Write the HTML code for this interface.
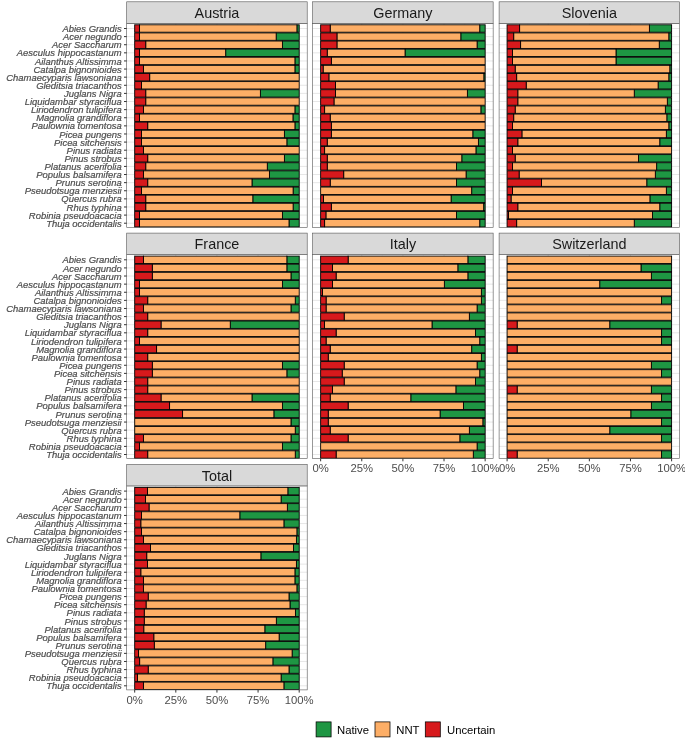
<!DOCTYPE html><html><head><meta charset="utf-8"><title>chart</title><style>html,body{margin:0;padding:0;background:#fff}svg{display:block;will-change:transform}text{font-family:"Liberation Sans",sans-serif}</style></head><body>
<svg width="685" height="747" viewBox="0 0 685 747">
<rect width="685" height="747" fill="#fff"/>
<g>
<rect x="126.70" y="23.30" width="180.50" height="204.00" fill="#fff"/>
<path d="M126.70 28.50H307.20M126.70 36.61H307.20M126.70 44.73H307.20M126.70 52.84H307.20M126.70 60.95H307.20M126.70 69.06H307.20M126.70 77.18H307.20M126.70 85.29H307.20M126.70 93.40H307.20M126.70 101.52H307.20M126.70 109.63H307.20M126.70 117.74H307.20M126.70 125.86H307.20M126.70 133.97H307.20M126.70 142.08H307.20M126.70 150.19H307.20M126.70 158.31H307.20M126.70 166.42H307.20M126.70 174.53H307.20M126.70 182.65H307.20M126.70 190.76H307.20M126.70 198.87H307.20M126.70 206.99H307.20M126.70 215.10H307.20M126.70 223.21H307.20M134.70 23.30V227.30M175.82 23.30V227.30M216.95 23.30V227.30M258.07 23.30V227.30M299.20 23.30V227.30" stroke="#E4E4E4" stroke-width="0.9" fill="none"/>
<path d="M155.26 23.30V227.30M196.39 23.30V227.30M237.51 23.30V227.30M278.64 23.30V227.30" stroke="#EBEBEB" stroke-width="0.35" fill="none"/>
<rect x="296.90" y="24.80" width="2.30" height="7.4" fill="#1E9643" stroke="#000" stroke-width="0.9"/>
<rect x="139.47" y="24.80" width="157.43" height="7.4" fill="#FDAE66" stroke="#000" stroke-width="0.9"/>
<rect x="134.70" y="24.80" width="4.77" height="7.4" fill="#D7191C" stroke="#000" stroke-width="0.9"/>
<rect x="276.17" y="32.91" width="23.03" height="7.4" fill="#1E9643" stroke="#000" stroke-width="0.9"/>
<rect x="139.47" y="32.91" width="136.70" height="7.4" fill="#FDAE66" stroke="#000" stroke-width="0.9"/>
<rect x="134.70" y="32.91" width="4.77" height="7.4" fill="#D7191C" stroke="#000" stroke-width="0.9"/>
<rect x="282.42" y="41.03" width="16.78" height="7.4" fill="#1E9643" stroke="#000" stroke-width="0.9"/>
<rect x="145.72" y="41.03" width="136.70" height="7.4" fill="#FDAE66" stroke="#000" stroke-width="0.9"/>
<rect x="134.70" y="41.03" width="11.02" height="7.4" fill="#D7191C" stroke="#000" stroke-width="0.9"/>
<rect x="225.67" y="49.14" width="73.53" height="7.4" fill="#1E9643" stroke="#000" stroke-width="0.9"/>
<rect x="139.47" y="49.14" width="86.20" height="7.4" fill="#FDAE66" stroke="#000" stroke-width="0.9"/>
<rect x="134.70" y="49.14" width="4.77" height="7.4" fill="#D7191C" stroke="#000" stroke-width="0.9"/>
<rect x="294.92" y="57.25" width="4.28" height="7.4" fill="#1E9643" stroke="#000" stroke-width="0.9"/>
<rect x="139.47" y="57.25" width="155.45" height="7.4" fill="#FDAE66" stroke="#000" stroke-width="0.9"/>
<rect x="134.70" y="57.25" width="4.77" height="7.4" fill="#D7191C" stroke="#000" stroke-width="0.9"/>
<rect x="294.92" y="65.36" width="4.28" height="7.4" fill="#1E9643" stroke="#000" stroke-width="0.9"/>
<rect x="143.42" y="65.36" width="151.50" height="7.4" fill="#FDAE66" stroke="#000" stroke-width="0.9"/>
<rect x="134.70" y="65.36" width="8.72" height="7.4" fill="#D7191C" stroke="#000" stroke-width="0.9"/>
<rect x="149.67" y="73.48" width="149.53" height="7.4" fill="#FDAE66" stroke="#000" stroke-width="0.9"/>
<rect x="134.70" y="73.48" width="14.97" height="7.4" fill="#D7191C" stroke="#000" stroke-width="0.9"/>
<rect x="141.44" y="81.59" width="157.76" height="7.4" fill="#FDAE66" stroke="#000" stroke-width="0.9"/>
<rect x="134.70" y="81.59" width="6.74" height="7.4" fill="#D7191C" stroke="#000" stroke-width="0.9"/>
<rect x="260.38" y="89.70" width="38.82" height="7.4" fill="#1E9643" stroke="#000" stroke-width="0.9"/>
<rect x="145.72" y="89.70" width="114.66" height="7.4" fill="#FDAE66" stroke="#000" stroke-width="0.9"/>
<rect x="134.70" y="89.70" width="11.02" height="7.4" fill="#D7191C" stroke="#000" stroke-width="0.9"/>
<rect x="145.72" y="97.82" width="153.48" height="7.4" fill="#FDAE66" stroke="#000" stroke-width="0.9"/>
<rect x="134.70" y="97.82" width="11.02" height="7.4" fill="#D7191C" stroke="#000" stroke-width="0.9"/>
<rect x="294.92" y="105.93" width="4.28" height="7.4" fill="#1E9643" stroke="#000" stroke-width="0.9"/>
<rect x="143.42" y="105.93" width="151.50" height="7.4" fill="#FDAE66" stroke="#000" stroke-width="0.9"/>
<rect x="134.70" y="105.93" width="8.72" height="7.4" fill="#D7191C" stroke="#000" stroke-width="0.9"/>
<rect x="292.95" y="114.04" width="6.25" height="7.4" fill="#1E9643" stroke="#000" stroke-width="0.9"/>
<rect x="139.47" y="114.04" width="153.48" height="7.4" fill="#FDAE66" stroke="#000" stroke-width="0.9"/>
<rect x="134.70" y="114.04" width="4.77" height="7.4" fill="#D7191C" stroke="#000" stroke-width="0.9"/>
<rect x="294.92" y="122.16" width="4.28" height="7.4" fill="#1E9643" stroke="#000" stroke-width="0.9"/>
<rect x="147.70" y="122.16" width="147.23" height="7.4" fill="#FDAE66" stroke="#000" stroke-width="0.9"/>
<rect x="134.70" y="122.16" width="13.00" height="7.4" fill="#D7191C" stroke="#000" stroke-width="0.9"/>
<rect x="284.39" y="130.27" width="14.80" height="7.4" fill="#1E9643" stroke="#000" stroke-width="0.9"/>
<rect x="141.44" y="130.27" width="142.95" height="7.4" fill="#FDAE66" stroke="#000" stroke-width="0.9"/>
<rect x="134.70" y="130.27" width="6.74" height="7.4" fill="#D7191C" stroke="#000" stroke-width="0.9"/>
<rect x="286.86" y="138.38" width="12.34" height="7.4" fill="#1E9643" stroke="#000" stroke-width="0.9"/>
<rect x="141.44" y="138.38" width="145.42" height="7.4" fill="#FDAE66" stroke="#000" stroke-width="0.9"/>
<rect x="134.70" y="138.38" width="6.74" height="7.4" fill="#D7191C" stroke="#000" stroke-width="0.9"/>
<rect x="143.42" y="146.50" width="155.78" height="7.4" fill="#FDAE66" stroke="#000" stroke-width="0.9"/>
<rect x="134.70" y="146.50" width="8.72" height="7.4" fill="#D7191C" stroke="#000" stroke-width="0.9"/>
<rect x="284.39" y="154.61" width="14.80" height="7.4" fill="#1E9643" stroke="#000" stroke-width="0.9"/>
<rect x="147.70" y="154.61" width="136.70" height="7.4" fill="#FDAE66" stroke="#000" stroke-width="0.9"/>
<rect x="134.70" y="154.61" width="13.00" height="7.4" fill="#D7191C" stroke="#000" stroke-width="0.9"/>
<rect x="267.29" y="162.72" width="31.91" height="7.4" fill="#1E9643" stroke="#000" stroke-width="0.9"/>
<rect x="145.72" y="162.72" width="121.57" height="7.4" fill="#FDAE66" stroke="#000" stroke-width="0.9"/>
<rect x="134.70" y="162.72" width="11.02" height="7.4" fill="#D7191C" stroke="#000" stroke-width="0.9"/>
<rect x="269.43" y="170.83" width="29.77" height="7.4" fill="#1E9643" stroke="#000" stroke-width="0.9"/>
<rect x="143.42" y="170.83" width="126.01" height="7.4" fill="#FDAE66" stroke="#000" stroke-width="0.9"/>
<rect x="134.70" y="170.83" width="8.72" height="7.4" fill="#D7191C" stroke="#000" stroke-width="0.9"/>
<rect x="251.99" y="178.95" width="47.21" height="7.4" fill="#1E9643" stroke="#000" stroke-width="0.9"/>
<rect x="147.70" y="178.95" width="104.29" height="7.4" fill="#FDAE66" stroke="#000" stroke-width="0.9"/>
<rect x="134.70" y="178.95" width="13.00" height="7.4" fill="#D7191C" stroke="#000" stroke-width="0.9"/>
<rect x="293.11" y="187.06" width="6.09" height="7.4" fill="#1E9643" stroke="#000" stroke-width="0.9"/>
<rect x="141.44" y="187.06" width="151.67" height="7.4" fill="#FDAE66" stroke="#000" stroke-width="0.9"/>
<rect x="134.70" y="187.06" width="6.74" height="7.4" fill="#D7191C" stroke="#000" stroke-width="0.9"/>
<rect x="252.81" y="195.17" width="46.39" height="7.4" fill="#1E9643" stroke="#000" stroke-width="0.9"/>
<rect x="145.72" y="195.17" width="107.09" height="7.4" fill="#FDAE66" stroke="#000" stroke-width="0.9"/>
<rect x="134.70" y="195.17" width="11.02" height="7.4" fill="#D7191C" stroke="#000" stroke-width="0.9"/>
<rect x="293.11" y="203.29" width="6.09" height="7.4" fill="#1E9643" stroke="#000" stroke-width="0.9"/>
<rect x="145.72" y="203.29" width="147.39" height="7.4" fill="#FDAE66" stroke="#000" stroke-width="0.9"/>
<rect x="134.70" y="203.29" width="11.02" height="7.4" fill="#D7191C" stroke="#000" stroke-width="0.9"/>
<rect x="282.42" y="211.40" width="16.78" height="7.4" fill="#1E9643" stroke="#000" stroke-width="0.9"/>
<rect x="139.47" y="211.40" width="142.95" height="7.4" fill="#FDAE66" stroke="#000" stroke-width="0.9"/>
<rect x="134.70" y="211.40" width="4.77" height="7.4" fill="#D7191C" stroke="#000" stroke-width="0.9"/>
<rect x="289.00" y="219.51" width="10.20" height="7.4" fill="#1E9643" stroke="#000" stroke-width="0.9"/>
<rect x="139.47" y="219.51" width="149.53" height="7.4" fill="#FDAE66" stroke="#000" stroke-width="0.9"/>
<rect x="134.70" y="219.51" width="4.77" height="7.4" fill="#D7191C" stroke="#000" stroke-width="0.9"/>
<rect x="126.70" y="23.30" width="180.50" height="204.00" fill="none" stroke="#555" stroke-width="0.6"/>
<rect x="126.70" y="1.80" width="180.50" height="21.50" fill="#D9D9D9" stroke="#555" stroke-width="0.6"/>
<text x="216.95" y="18.05" font-size="14.4" fill="#1A1A1A" text-anchor="middle">Austria</text>
<text x="121.70" y="32.10" font-size="9.45" font-style="italic" fill="#4D4D4D" stroke="#4D4D4D" stroke-width="0.2" text-anchor="end">Abies Grandis</text>
<text x="121.70" y="40.21" font-size="9.45" font-style="italic" fill="#4D4D4D" stroke="#4D4D4D" stroke-width="0.2" text-anchor="end">Acer negundo</text>
<text x="121.70" y="48.33" font-size="9.45" font-style="italic" fill="#4D4D4D" stroke="#4D4D4D" stroke-width="0.2" text-anchor="end">Acer Saccharum</text>
<text x="121.70" y="56.44" font-size="9.45" font-style="italic" fill="#4D4D4D" stroke="#4D4D4D" stroke-width="0.2" text-anchor="end">Aesculus hippocastanum</text>
<text x="121.70" y="64.55" font-size="9.45" font-style="italic" fill="#4D4D4D" stroke="#4D4D4D" stroke-width="0.2" text-anchor="end">Ailanthus Altissimma</text>
<text x="121.70" y="72.66" font-size="9.45" font-style="italic" fill="#4D4D4D" stroke="#4D4D4D" stroke-width="0.2" text-anchor="end">Catalpa bignonioides</text>
<text x="121.70" y="80.78" font-size="9.45" font-style="italic" fill="#4D4D4D" stroke="#4D4D4D" stroke-width="0.2" text-anchor="end">Chamaecyparis lawsoniana</text>
<text x="121.70" y="88.89" font-size="9.45" font-style="italic" fill="#4D4D4D" stroke="#4D4D4D" stroke-width="0.2" text-anchor="end">Gleditsia triacanthos</text>
<text x="121.70" y="97.00" font-size="9.45" font-style="italic" fill="#4D4D4D" stroke="#4D4D4D" stroke-width="0.2" text-anchor="end">Juglans Nigra</text>
<text x="121.70" y="105.12" font-size="9.45" font-style="italic" fill="#4D4D4D" stroke="#4D4D4D" stroke-width="0.2" text-anchor="end">Liquidambar styraciflua</text>
<text x="121.70" y="113.23" font-size="9.45" font-style="italic" fill="#4D4D4D" stroke="#4D4D4D" stroke-width="0.2" text-anchor="end">Liriodendron tulipifera</text>
<text x="121.70" y="121.34" font-size="9.45" font-style="italic" fill="#4D4D4D" stroke="#4D4D4D" stroke-width="0.2" text-anchor="end">Magnolia grandiflora</text>
<text x="121.70" y="129.46" font-size="9.45" font-style="italic" fill="#4D4D4D" stroke="#4D4D4D" stroke-width="0.2" text-anchor="end">Paulownia tomentosa</text>
<text x="121.70" y="137.57" font-size="9.45" font-style="italic" fill="#4D4D4D" stroke="#4D4D4D" stroke-width="0.2" text-anchor="end">Picea pungens</text>
<text x="121.70" y="145.68" font-size="9.45" font-style="italic" fill="#4D4D4D" stroke="#4D4D4D" stroke-width="0.2" text-anchor="end">Picea sitchensis</text>
<text x="121.70" y="153.79" font-size="9.45" font-style="italic" fill="#4D4D4D" stroke="#4D4D4D" stroke-width="0.2" text-anchor="end">Pinus radiata</text>
<text x="121.70" y="161.91" font-size="9.45" font-style="italic" fill="#4D4D4D" stroke="#4D4D4D" stroke-width="0.2" text-anchor="end">Pinus strobus</text>
<text x="121.70" y="170.02" font-size="9.45" font-style="italic" fill="#4D4D4D" stroke="#4D4D4D" stroke-width="0.2" text-anchor="end">Platanus acerifolia</text>
<text x="121.70" y="178.13" font-size="9.45" font-style="italic" fill="#4D4D4D" stroke="#4D4D4D" stroke-width="0.2" text-anchor="end">Populus balsamifera</text>
<text x="121.70" y="186.25" font-size="9.45" font-style="italic" fill="#4D4D4D" stroke="#4D4D4D" stroke-width="0.2" text-anchor="end">Prunus serotina</text>
<text x="121.70" y="194.36" font-size="9.45" font-style="italic" fill="#4D4D4D" stroke="#4D4D4D" stroke-width="0.2" text-anchor="end">Pseudotsuga menziesii</text>
<text x="121.70" y="202.47" font-size="9.45" font-style="italic" fill="#4D4D4D" stroke="#4D4D4D" stroke-width="0.2" text-anchor="end">Quercus rubra</text>
<text x="121.70" y="210.59" font-size="9.45" font-style="italic" fill="#4D4D4D" stroke="#4D4D4D" stroke-width="0.2" text-anchor="end">Rhus typhina</text>
<text x="121.70" y="218.70" font-size="9.45" font-style="italic" fill="#4D4D4D" stroke="#4D4D4D" stroke-width="0.2" text-anchor="end">Robinia pseudoacacia</text>
<text x="121.70" y="226.81" font-size="9.45" font-style="italic" fill="#4D4D4D" stroke="#4D4D4D" stroke-width="0.2" text-anchor="end">Thuja occidentalis</text>
<path d="M124.00 28.50H126.70M124.00 36.61H126.70M124.00 44.73H126.70M124.00 52.84H126.70M124.00 60.95H126.70M124.00 69.06H126.70M124.00 77.18H126.70M124.00 85.29H126.70M124.00 93.40H126.70M124.00 101.52H126.70M124.00 109.63H126.70M124.00 117.74H126.70M124.00 125.86H126.70M124.00 133.97H126.70M124.00 142.08H126.70M124.00 150.19H126.70M124.00 158.31H126.70M124.00 166.42H126.70M124.00 174.53H126.70M124.00 182.65H126.70M124.00 190.76H126.70M124.00 198.87H126.70M124.00 206.99H126.70M124.00 215.10H126.70M124.00 223.21H126.70" stroke="#333" stroke-width="1.0" fill="none"/>
</g>
<g>
<rect x="312.65" y="23.30" width="180.50" height="204.00" fill="#fff"/>
<path d="M312.65 28.50H493.15M312.65 36.61H493.15M312.65 44.73H493.15M312.65 52.84H493.15M312.65 60.95H493.15M312.65 69.06H493.15M312.65 77.18H493.15M312.65 85.29H493.15M312.65 93.40H493.15M312.65 101.52H493.15M312.65 109.63H493.15M312.65 117.74H493.15M312.65 125.86H493.15M312.65 133.97H493.15M312.65 142.08H493.15M312.65 150.19H493.15M312.65 158.31H493.15M312.65 166.42H493.15M312.65 174.53H493.15M312.65 182.65H493.15M312.65 190.76H493.15M312.65 198.87H493.15M312.65 206.99H493.15M312.65 215.10H493.15M312.65 223.21H493.15M320.65 23.30V227.30M361.77 23.30V227.30M402.90 23.30V227.30M444.02 23.30V227.30M485.15 23.30V227.30" stroke="#E4E4E4" stroke-width="0.9" fill="none"/>
<path d="M341.21 23.30V227.30M382.34 23.30V227.30M423.46 23.30V227.30M464.59 23.30V227.30" stroke="#EBEBEB" stroke-width="0.35" fill="none"/>
<rect x="479.72" y="24.80" width="5.43" height="7.4" fill="#1E9643" stroke="#000" stroke-width="0.9"/>
<rect x="330.19" y="24.80" width="149.53" height="7.4" fill="#FDAE66" stroke="#000" stroke-width="0.9"/>
<rect x="320.65" y="24.80" width="9.54" height="7.4" fill="#D7191C" stroke="#000" stroke-width="0.9"/>
<rect x="460.80" y="32.91" width="24.35" height="7.4" fill="#1E9643" stroke="#000" stroke-width="0.9"/>
<rect x="336.94" y="32.91" width="123.87" height="7.4" fill="#FDAE66" stroke="#000" stroke-width="0.9"/>
<rect x="320.65" y="32.91" width="16.29" height="7.4" fill="#D7191C" stroke="#000" stroke-width="0.9"/>
<rect x="477.09" y="41.03" width="8.06" height="7.4" fill="#1E9643" stroke="#000" stroke-width="0.9"/>
<rect x="336.94" y="41.03" width="140.15" height="7.4" fill="#FDAE66" stroke="#000" stroke-width="0.9"/>
<rect x="320.65" y="41.03" width="16.29" height="7.4" fill="#D7191C" stroke="#000" stroke-width="0.9"/>
<rect x="405.04" y="49.14" width="80.11" height="7.4" fill="#1E9643" stroke="#000" stroke-width="0.9"/>
<rect x="327.23" y="49.14" width="77.81" height="7.4" fill="#FDAE66" stroke="#000" stroke-width="0.9"/>
<rect x="320.65" y="49.14" width="6.58" height="7.4" fill="#D7191C" stroke="#000" stroke-width="0.9"/>
<rect x="331.34" y="57.25" width="153.81" height="7.4" fill="#FDAE66" stroke="#000" stroke-width="0.9"/>
<rect x="320.65" y="57.25" width="10.69" height="7.4" fill="#D7191C" stroke="#000" stroke-width="0.9"/>
<rect x="323.12" y="65.36" width="162.03" height="7.4" fill="#FDAE66" stroke="#000" stroke-width="0.9"/>
<rect x="320.65" y="65.36" width="2.47" height="7.4" fill="#D7191C" stroke="#000" stroke-width="0.9"/>
<rect x="483.83" y="73.48" width="1.32" height="7.4" fill="#1E9643" stroke="#000" stroke-width="0.9"/>
<rect x="328.88" y="73.48" width="154.96" height="7.4" fill="#FDAE66" stroke="#000" stroke-width="0.9"/>
<rect x="320.65" y="73.48" width="8.22" height="7.4" fill="#D7191C" stroke="#000" stroke-width="0.9"/>
<rect x="335.45" y="81.59" width="149.69" height="7.4" fill="#FDAE66" stroke="#000" stroke-width="0.9"/>
<rect x="320.65" y="81.59" width="14.80" height="7.4" fill="#D7191C" stroke="#000" stroke-width="0.9"/>
<rect x="467.38" y="89.70" width="17.77" height="7.4" fill="#1E9643" stroke="#000" stroke-width="0.9"/>
<rect x="335.45" y="89.70" width="131.93" height="7.4" fill="#FDAE66" stroke="#000" stroke-width="0.9"/>
<rect x="320.65" y="89.70" width="14.80" height="7.4" fill="#D7191C" stroke="#000" stroke-width="0.9"/>
<rect x="333.97" y="97.82" width="151.18" height="7.4" fill="#FDAE66" stroke="#000" stroke-width="0.9"/>
<rect x="320.65" y="97.82" width="13.32" height="7.4" fill="#D7191C" stroke="#000" stroke-width="0.9"/>
<rect x="480.87" y="105.93" width="4.28" height="7.4" fill="#1E9643" stroke="#000" stroke-width="0.9"/>
<rect x="324.60" y="105.93" width="156.28" height="7.4" fill="#FDAE66" stroke="#000" stroke-width="0.9"/>
<rect x="320.65" y="105.93" width="3.95" height="7.4" fill="#D7191C" stroke="#000" stroke-width="0.9"/>
<rect x="330.19" y="114.04" width="154.96" height="7.4" fill="#FDAE66" stroke="#000" stroke-width="0.9"/>
<rect x="320.65" y="114.04" width="9.54" height="7.4" fill="#D7191C" stroke="#000" stroke-width="0.9"/>
<rect x="331.34" y="122.16" width="153.81" height="7.4" fill="#FDAE66" stroke="#000" stroke-width="0.9"/>
<rect x="320.65" y="122.16" width="10.69" height="7.4" fill="#D7191C" stroke="#000" stroke-width="0.9"/>
<rect x="472.81" y="130.27" width="12.34" height="7.4" fill="#1E9643" stroke="#000" stroke-width="0.9"/>
<rect x="331.34" y="130.27" width="141.47" height="7.4" fill="#FDAE66" stroke="#000" stroke-width="0.9"/>
<rect x="320.65" y="130.27" width="10.69" height="7.4" fill="#D7191C" stroke="#000" stroke-width="0.9"/>
<rect x="478.41" y="138.38" width="6.74" height="7.4" fill="#1E9643" stroke="#000" stroke-width="0.9"/>
<rect x="327.23" y="138.38" width="151.18" height="7.4" fill="#FDAE66" stroke="#000" stroke-width="0.9"/>
<rect x="320.65" y="138.38" width="6.58" height="7.4" fill="#D7191C" stroke="#000" stroke-width="0.9"/>
<rect x="475.94" y="146.50" width="9.21" height="7.4" fill="#1E9643" stroke="#000" stroke-width="0.9"/>
<rect x="324.60" y="146.50" width="151.34" height="7.4" fill="#FDAE66" stroke="#000" stroke-width="0.9"/>
<rect x="320.65" y="146.50" width="3.95" height="7.4" fill="#D7191C" stroke="#000" stroke-width="0.9"/>
<rect x="461.79" y="154.61" width="23.36" height="7.4" fill="#1E9643" stroke="#000" stroke-width="0.9"/>
<rect x="327.23" y="154.61" width="134.56" height="7.4" fill="#FDAE66" stroke="#000" stroke-width="0.9"/>
<rect x="320.65" y="154.61" width="6.58" height="7.4" fill="#D7191C" stroke="#000" stroke-width="0.9"/>
<rect x="456.53" y="162.72" width="28.62" height="7.4" fill="#1E9643" stroke="#000" stroke-width="0.9"/>
<rect x="327.23" y="162.72" width="129.30" height="7.4" fill="#FDAE66" stroke="#000" stroke-width="0.9"/>
<rect x="320.65" y="162.72" width="6.58" height="7.4" fill="#D7191C" stroke="#000" stroke-width="0.9"/>
<rect x="466.07" y="170.83" width="19.08" height="7.4" fill="#1E9643" stroke="#000" stroke-width="0.9"/>
<rect x="343.68" y="170.83" width="122.39" height="7.4" fill="#FDAE66" stroke="#000" stroke-width="0.9"/>
<rect x="320.65" y="170.83" width="23.03" height="7.4" fill="#D7191C" stroke="#000" stroke-width="0.9"/>
<rect x="456.53" y="178.95" width="28.62" height="7.4" fill="#1E9643" stroke="#000" stroke-width="0.9"/>
<rect x="330.19" y="178.95" width="126.34" height="7.4" fill="#FDAE66" stroke="#000" stroke-width="0.9"/>
<rect x="320.65" y="178.95" width="9.54" height="7.4" fill="#D7191C" stroke="#000" stroke-width="0.9"/>
<rect x="471.66" y="187.06" width="13.49" height="7.4" fill="#1E9643" stroke="#000" stroke-width="0.9"/>
<rect x="320.65" y="187.06" width="151.01" height="7.4" fill="#FDAE66" stroke="#000" stroke-width="0.9"/>
<rect x="451.10" y="195.17" width="34.05" height="7.4" fill="#1E9643" stroke="#000" stroke-width="0.9"/>
<rect x="323.45" y="195.17" width="127.65" height="7.4" fill="#FDAE66" stroke="#000" stroke-width="0.9"/>
<rect x="320.65" y="195.17" width="2.80" height="7.4" fill="#D7191C" stroke="#000" stroke-width="0.9"/>
<rect x="483.67" y="203.29" width="1.48" height="7.4" fill="#1E9643" stroke="#000" stroke-width="0.9"/>
<rect x="331.34" y="203.29" width="152.33" height="7.4" fill="#FDAE66" stroke="#000" stroke-width="0.9"/>
<rect x="320.65" y="203.29" width="10.69" height="7.4" fill="#D7191C" stroke="#000" stroke-width="0.9"/>
<rect x="456.53" y="211.40" width="28.62" height="7.4" fill="#1E9643" stroke="#000" stroke-width="0.9"/>
<rect x="325.91" y="211.40" width="130.61" height="7.4" fill="#FDAE66" stroke="#000" stroke-width="0.9"/>
<rect x="320.65" y="211.40" width="5.26" height="7.4" fill="#D7191C" stroke="#000" stroke-width="0.9"/>
<rect x="479.72" y="219.51" width="5.43" height="7.4" fill="#1E9643" stroke="#000" stroke-width="0.9"/>
<rect x="324.60" y="219.51" width="155.12" height="7.4" fill="#FDAE66" stroke="#000" stroke-width="0.9"/>
<rect x="320.65" y="219.51" width="3.95" height="7.4" fill="#D7191C" stroke="#000" stroke-width="0.9"/>
<rect x="312.65" y="23.30" width="180.50" height="204.00" fill="none" stroke="#555" stroke-width="0.6"/>
<rect x="312.65" y="1.80" width="180.50" height="21.50" fill="#D9D9D9" stroke="#555" stroke-width="0.6"/>
<text x="402.90" y="18.05" font-size="14.4" fill="#1A1A1A" text-anchor="middle">Germany</text>
</g>
<g>
<rect x="499.10" y="23.30" width="180.50" height="204.00" fill="#fff"/>
<path d="M499.10 28.50H679.60M499.10 36.61H679.60M499.10 44.73H679.60M499.10 52.84H679.60M499.10 60.95H679.60M499.10 69.06H679.60M499.10 77.18H679.60M499.10 85.29H679.60M499.10 93.40H679.60M499.10 101.52H679.60M499.10 109.63H679.60M499.10 117.74H679.60M499.10 125.86H679.60M499.10 133.97H679.60M499.10 142.08H679.60M499.10 150.19H679.60M499.10 158.31H679.60M499.10 166.42H679.60M499.10 174.53H679.60M499.10 182.65H679.60M499.10 190.76H679.60M499.10 198.87H679.60M499.10 206.99H679.60M499.10 215.10H679.60M499.10 223.21H679.60M507.10 23.30V227.30M548.23 23.30V227.30M589.35 23.30V227.30M630.48 23.30V227.30M671.60 23.30V227.30" stroke="#E4E4E4" stroke-width="0.9" fill="none"/>
<path d="M527.66 23.30V227.30M568.79 23.30V227.30M609.91 23.30V227.30M651.04 23.30V227.30" stroke="#EBEBEB" stroke-width="0.35" fill="none"/>
<rect x="649.39" y="24.80" width="22.21" height="7.4" fill="#1E9643" stroke="#000" stroke-width="0.9"/>
<rect x="519.60" y="24.80" width="129.79" height="7.4" fill="#FDAE66" stroke="#000" stroke-width="0.9"/>
<rect x="507.10" y="24.80" width="12.50" height="7.4" fill="#D7191C" stroke="#000" stroke-width="0.9"/>
<rect x="668.80" y="32.91" width="2.80" height="7.4" fill="#1E9643" stroke="#000" stroke-width="0.9"/>
<rect x="513.68" y="32.91" width="155.12" height="7.4" fill="#FDAE66" stroke="#000" stroke-width="0.9"/>
<rect x="507.10" y="32.91" width="6.58" height="7.4" fill="#D7191C" stroke="#000" stroke-width="0.9"/>
<rect x="659.26" y="41.03" width="12.34" height="7.4" fill="#1E9643" stroke="#000" stroke-width="0.9"/>
<rect x="520.59" y="41.03" width="138.67" height="7.4" fill="#FDAE66" stroke="#000" stroke-width="0.9"/>
<rect x="507.10" y="41.03" width="13.49" height="7.4" fill="#D7191C" stroke="#000" stroke-width="0.9"/>
<rect x="616.00" y="49.14" width="55.60" height="7.4" fill="#1E9643" stroke="#000" stroke-width="0.9"/>
<rect x="512.53" y="49.14" width="103.47" height="7.4" fill="#FDAE66" stroke="#000" stroke-width="0.9"/>
<rect x="507.10" y="49.14" width="5.43" height="7.4" fill="#D7191C" stroke="#000" stroke-width="0.9"/>
<rect x="616.00" y="57.25" width="55.60" height="7.4" fill="#1E9643" stroke="#000" stroke-width="0.9"/>
<rect x="512.53" y="57.25" width="103.47" height="7.4" fill="#FDAE66" stroke="#000" stroke-width="0.9"/>
<rect x="507.10" y="57.25" width="5.43" height="7.4" fill="#D7191C" stroke="#000" stroke-width="0.9"/>
<rect x="669.79" y="65.36" width="1.81" height="7.4" fill="#1E9643" stroke="#000" stroke-width="0.9"/>
<rect x="515.16" y="65.36" width="154.63" height="7.4" fill="#FDAE66" stroke="#000" stroke-width="0.9"/>
<rect x="507.10" y="65.36" width="8.06" height="7.4" fill="#D7191C" stroke="#000" stroke-width="0.9"/>
<rect x="668.80" y="73.48" width="2.80" height="7.4" fill="#1E9643" stroke="#000" stroke-width="0.9"/>
<rect x="516.64" y="73.48" width="152.16" height="7.4" fill="#FDAE66" stroke="#000" stroke-width="0.9"/>
<rect x="507.10" y="73.48" width="9.54" height="7.4" fill="#D7191C" stroke="#000" stroke-width="0.9"/>
<rect x="658.11" y="81.59" width="13.49" height="7.4" fill="#1E9643" stroke="#000" stroke-width="0.9"/>
<rect x="526.18" y="81.59" width="131.93" height="7.4" fill="#FDAE66" stroke="#000" stroke-width="0.9"/>
<rect x="507.10" y="81.59" width="19.08" height="7.4" fill="#D7191C" stroke="#000" stroke-width="0.9"/>
<rect x="634.26" y="89.70" width="37.34" height="7.4" fill="#1E9643" stroke="#000" stroke-width="0.9"/>
<rect x="517.79" y="89.70" width="116.47" height="7.4" fill="#FDAE66" stroke="#000" stroke-width="0.9"/>
<rect x="507.10" y="89.70" width="10.69" height="7.4" fill="#D7191C" stroke="#000" stroke-width="0.9"/>
<rect x="667.32" y="97.82" width="4.28" height="7.4" fill="#1E9643" stroke="#000" stroke-width="0.9"/>
<rect x="517.79" y="97.82" width="149.53" height="7.4" fill="#FDAE66" stroke="#000" stroke-width="0.9"/>
<rect x="507.10" y="97.82" width="10.69" height="7.4" fill="#D7191C" stroke="#000" stroke-width="0.9"/>
<rect x="665.35" y="105.93" width="6.25" height="7.4" fill="#1E9643" stroke="#000" stroke-width="0.9"/>
<rect x="515.16" y="105.93" width="150.19" height="7.4" fill="#FDAE66" stroke="#000" stroke-width="0.9"/>
<rect x="507.10" y="105.93" width="8.06" height="7.4" fill="#D7191C" stroke="#000" stroke-width="0.9"/>
<rect x="666.83" y="114.04" width="4.77" height="7.4" fill="#1E9643" stroke="#000" stroke-width="0.9"/>
<rect x="513.68" y="114.04" width="153.15" height="7.4" fill="#FDAE66" stroke="#000" stroke-width="0.9"/>
<rect x="507.10" y="114.04" width="6.58" height="7.4" fill="#D7191C" stroke="#000" stroke-width="0.9"/>
<rect x="668.80" y="122.16" width="2.80" height="7.4" fill="#1E9643" stroke="#000" stroke-width="0.9"/>
<rect x="512.53" y="122.16" width="156.28" height="7.4" fill="#FDAE66" stroke="#000" stroke-width="0.9"/>
<rect x="507.10" y="122.16" width="5.43" height="7.4" fill="#D7191C" stroke="#000" stroke-width="0.9"/>
<rect x="666.34" y="130.27" width="5.26" height="7.4" fill="#1E9643" stroke="#000" stroke-width="0.9"/>
<rect x="521.90" y="130.27" width="144.43" height="7.4" fill="#FDAE66" stroke="#000" stroke-width="0.9"/>
<rect x="507.10" y="130.27" width="14.80" height="7.4" fill="#D7191C" stroke="#000" stroke-width="0.9"/>
<rect x="659.76" y="138.38" width="11.84" height="7.4" fill="#1E9643" stroke="#000" stroke-width="0.9"/>
<rect x="517.79" y="138.38" width="141.96" height="7.4" fill="#FDAE66" stroke="#000" stroke-width="0.9"/>
<rect x="507.10" y="138.38" width="10.69" height="7.4" fill="#D7191C" stroke="#000" stroke-width="0.9"/>
<rect x="512.53" y="146.50" width="159.07" height="7.4" fill="#FDAE66" stroke="#000" stroke-width="0.9"/>
<rect x="507.10" y="146.50" width="5.43" height="7.4" fill="#D7191C" stroke="#000" stroke-width="0.9"/>
<rect x="638.54" y="154.61" width="33.06" height="7.4" fill="#1E9643" stroke="#000" stroke-width="0.9"/>
<rect x="515.16" y="154.61" width="123.38" height="7.4" fill="#FDAE66" stroke="#000" stroke-width="0.9"/>
<rect x="507.10" y="154.61" width="8.06" height="7.4" fill="#D7191C" stroke="#000" stroke-width="0.9"/>
<rect x="656.63" y="162.72" width="14.97" height="7.4" fill="#1E9643" stroke="#000" stroke-width="0.9"/>
<rect x="512.53" y="162.72" width="144.10" height="7.4" fill="#FDAE66" stroke="#000" stroke-width="0.9"/>
<rect x="507.10" y="162.72" width="5.43" height="7.4" fill="#D7191C" stroke="#000" stroke-width="0.9"/>
<rect x="655.31" y="170.83" width="16.29" height="7.4" fill="#1E9643" stroke="#000" stroke-width="0.9"/>
<rect x="519.11" y="170.83" width="136.21" height="7.4" fill="#FDAE66" stroke="#000" stroke-width="0.9"/>
<rect x="507.10" y="170.83" width="12.01" height="7.4" fill="#D7191C" stroke="#000" stroke-width="0.9"/>
<rect x="646.76" y="178.95" width="24.84" height="7.4" fill="#1E9643" stroke="#000" stroke-width="0.9"/>
<rect x="541.48" y="178.95" width="105.28" height="7.4" fill="#FDAE66" stroke="#000" stroke-width="0.9"/>
<rect x="507.10" y="178.95" width="34.38" height="7.4" fill="#D7191C" stroke="#000" stroke-width="0.9"/>
<rect x="666.34" y="187.06" width="5.26" height="7.4" fill="#1E9643" stroke="#000" stroke-width="0.9"/>
<rect x="512.53" y="187.06" width="153.81" height="7.4" fill="#FDAE66" stroke="#000" stroke-width="0.9"/>
<rect x="507.10" y="187.06" width="5.43" height="7.4" fill="#D7191C" stroke="#000" stroke-width="0.9"/>
<rect x="649.89" y="195.17" width="21.71" height="7.4" fill="#1E9643" stroke="#000" stroke-width="0.9"/>
<rect x="511.05" y="195.17" width="138.84" height="7.4" fill="#FDAE66" stroke="#000" stroke-width="0.9"/>
<rect x="507.10" y="195.17" width="3.95" height="7.4" fill="#D7191C" stroke="#000" stroke-width="0.9"/>
<rect x="659.76" y="203.29" width="11.84" height="7.4" fill="#1E9643" stroke="#000" stroke-width="0.9"/>
<rect x="517.79" y="203.29" width="141.96" height="7.4" fill="#FDAE66" stroke="#000" stroke-width="0.9"/>
<rect x="507.10" y="203.29" width="10.69" height="7.4" fill="#D7191C" stroke="#000" stroke-width="0.9"/>
<rect x="652.52" y="211.40" width="19.08" height="7.4" fill="#1E9643" stroke="#000" stroke-width="0.9"/>
<rect x="508.42" y="211.40" width="144.10" height="7.4" fill="#FDAE66" stroke="#000" stroke-width="0.9"/>
<rect x="507.10" y="211.40" width="1.32" height="7.4" fill="#D7191C" stroke="#000" stroke-width="0.9"/>
<rect x="634.26" y="219.51" width="37.34" height="7.4" fill="#1E9643" stroke="#000" stroke-width="0.9"/>
<rect x="516.64" y="219.51" width="117.62" height="7.4" fill="#FDAE66" stroke="#000" stroke-width="0.9"/>
<rect x="507.10" y="219.51" width="9.54" height="7.4" fill="#D7191C" stroke="#000" stroke-width="0.9"/>
<rect x="499.10" y="23.30" width="180.50" height="204.00" fill="none" stroke="#555" stroke-width="0.6"/>
<rect x="499.10" y="1.80" width="180.50" height="21.50" fill="#D9D9D9" stroke="#555" stroke-width="0.6"/>
<text x="589.35" y="18.05" font-size="14.4" fill="#1A1A1A" text-anchor="middle">Slovenia</text>
</g>
<g>
<rect x="126.70" y="254.60" width="180.50" height="204.00" fill="#fff"/>
<path d="M126.70 259.80H307.20M126.70 267.91H307.20M126.70 276.03H307.20M126.70 284.14H307.20M126.70 292.25H307.20M126.70 300.37H307.20M126.70 308.48H307.20M126.70 316.59H307.20M126.70 324.70H307.20M126.70 332.82H307.20M126.70 340.93H307.20M126.70 349.04H307.20M126.70 357.16H307.20M126.70 365.27H307.20M126.70 373.38H307.20M126.70 381.50H307.20M126.70 389.61H307.20M126.70 397.72H307.20M126.70 405.83H307.20M126.70 413.95H307.20M126.70 422.06H307.20M126.70 430.17H307.20M126.70 438.29H307.20M126.70 446.40H307.20M126.70 454.51H307.20M134.70 254.60V458.60M175.82 254.60V458.60M216.95 254.60V458.60M258.07 254.60V458.60M299.20 254.60V458.60" stroke="#E4E4E4" stroke-width="0.9" fill="none"/>
<path d="M155.26 254.60V458.60M196.39 254.60V458.60M237.51 254.60V458.60M278.64 254.60V458.60" stroke="#EBEBEB" stroke-width="0.35" fill="none"/>
<rect x="286.86" y="256.10" width="12.34" height="7.4" fill="#1E9643" stroke="#000" stroke-width="0.9"/>
<rect x="143.42" y="256.10" width="143.44" height="7.4" fill="#FDAE66" stroke="#000" stroke-width="0.9"/>
<rect x="134.70" y="256.10" width="8.72" height="7.4" fill="#D7191C" stroke="#000" stroke-width="0.9"/>
<rect x="286.86" y="264.21" width="12.34" height="7.4" fill="#1E9643" stroke="#000" stroke-width="0.9"/>
<rect x="152.30" y="264.21" width="134.56" height="7.4" fill="#FDAE66" stroke="#000" stroke-width="0.9"/>
<rect x="134.70" y="264.21" width="17.60" height="7.4" fill="#D7191C" stroke="#000" stroke-width="0.9"/>
<rect x="290.98" y="272.33" width="8.22" height="7.4" fill="#1E9643" stroke="#000" stroke-width="0.9"/>
<rect x="152.30" y="272.33" width="138.67" height="7.4" fill="#FDAE66" stroke="#000" stroke-width="0.9"/>
<rect x="134.70" y="272.33" width="17.60" height="7.4" fill="#D7191C" stroke="#000" stroke-width="0.9"/>
<rect x="282.42" y="280.44" width="16.78" height="7.4" fill="#1E9643" stroke="#000" stroke-width="0.9"/>
<rect x="139.47" y="280.44" width="142.95" height="7.4" fill="#FDAE66" stroke="#000" stroke-width="0.9"/>
<rect x="134.70" y="280.44" width="4.77" height="7.4" fill="#D7191C" stroke="#000" stroke-width="0.9"/>
<rect x="139.47" y="288.55" width="159.73" height="7.4" fill="#FDAE66" stroke="#000" stroke-width="0.9"/>
<rect x="134.70" y="288.55" width="4.77" height="7.4" fill="#D7191C" stroke="#000" stroke-width="0.9"/>
<rect x="295.25" y="296.67" width="3.95" height="7.4" fill="#1E9643" stroke="#000" stroke-width="0.9"/>
<rect x="147.70" y="296.67" width="147.56" height="7.4" fill="#FDAE66" stroke="#000" stroke-width="0.9"/>
<rect x="134.70" y="296.67" width="13.00" height="7.4" fill="#D7191C" stroke="#000" stroke-width="0.9"/>
<rect x="290.98" y="304.78" width="8.22" height="7.4" fill="#1E9643" stroke="#000" stroke-width="0.9"/>
<rect x="143.42" y="304.78" width="147.56" height="7.4" fill="#FDAE66" stroke="#000" stroke-width="0.9"/>
<rect x="134.70" y="304.78" width="8.72" height="7.4" fill="#D7191C" stroke="#000" stroke-width="0.9"/>
<rect x="147.70" y="312.89" width="151.50" height="7.4" fill="#FDAE66" stroke="#000" stroke-width="0.9"/>
<rect x="134.70" y="312.89" width="13.00" height="7.4" fill="#D7191C" stroke="#000" stroke-width="0.9"/>
<rect x="230.27" y="321.00" width="68.93" height="7.4" fill="#1E9643" stroke="#000" stroke-width="0.9"/>
<rect x="161.02" y="321.00" width="69.25" height="7.4" fill="#FDAE66" stroke="#000" stroke-width="0.9"/>
<rect x="134.70" y="321.00" width="26.32" height="7.4" fill="#D7191C" stroke="#000" stroke-width="0.9"/>
<rect x="147.70" y="329.12" width="151.50" height="7.4" fill="#FDAE66" stroke="#000" stroke-width="0.9"/>
<rect x="134.70" y="329.12" width="13.00" height="7.4" fill="#D7191C" stroke="#000" stroke-width="0.9"/>
<rect x="139.47" y="337.23" width="159.73" height="7.4" fill="#FDAE66" stroke="#000" stroke-width="0.9"/>
<rect x="134.70" y="337.23" width="4.77" height="7.4" fill="#D7191C" stroke="#000" stroke-width="0.9"/>
<rect x="156.58" y="345.34" width="142.62" height="7.4" fill="#FDAE66" stroke="#000" stroke-width="0.9"/>
<rect x="134.70" y="345.34" width="21.88" height="7.4" fill="#D7191C" stroke="#000" stroke-width="0.9"/>
<rect x="147.70" y="353.46" width="151.50" height="7.4" fill="#FDAE66" stroke="#000" stroke-width="0.9"/>
<rect x="134.70" y="353.46" width="13.00" height="7.4" fill="#D7191C" stroke="#000" stroke-width="0.9"/>
<rect x="282.42" y="361.57" width="16.78" height="7.4" fill="#1E9643" stroke="#000" stroke-width="0.9"/>
<rect x="152.30" y="361.57" width="130.12" height="7.4" fill="#FDAE66" stroke="#000" stroke-width="0.9"/>
<rect x="134.70" y="361.57" width="17.60" height="7.4" fill="#D7191C" stroke="#000" stroke-width="0.9"/>
<rect x="286.86" y="369.68" width="12.34" height="7.4" fill="#1E9643" stroke="#000" stroke-width="0.9"/>
<rect x="152.30" y="369.68" width="134.56" height="7.4" fill="#FDAE66" stroke="#000" stroke-width="0.9"/>
<rect x="134.70" y="369.68" width="17.60" height="7.4" fill="#D7191C" stroke="#000" stroke-width="0.9"/>
<rect x="147.70" y="377.80" width="151.50" height="7.4" fill="#FDAE66" stroke="#000" stroke-width="0.9"/>
<rect x="134.70" y="377.80" width="13.00" height="7.4" fill="#D7191C" stroke="#000" stroke-width="0.9"/>
<rect x="147.70" y="385.91" width="151.50" height="7.4" fill="#FDAE66" stroke="#000" stroke-width="0.9"/>
<rect x="134.70" y="385.91" width="13.00" height="7.4" fill="#D7191C" stroke="#000" stroke-width="0.9"/>
<rect x="251.99" y="394.02" width="47.21" height="7.4" fill="#1E9643" stroke="#000" stroke-width="0.9"/>
<rect x="161.02" y="394.02" width="90.97" height="7.4" fill="#FDAE66" stroke="#000" stroke-width="0.9"/>
<rect x="134.70" y="394.02" width="26.32" height="7.4" fill="#D7191C" stroke="#000" stroke-width="0.9"/>
<rect x="282.42" y="402.13" width="16.78" height="7.4" fill="#1E9643" stroke="#000" stroke-width="0.9"/>
<rect x="169.57" y="402.13" width="112.85" height="7.4" fill="#FDAE66" stroke="#000" stroke-width="0.9"/>
<rect x="134.70" y="402.13" width="34.87" height="7.4" fill="#D7191C" stroke="#000" stroke-width="0.9"/>
<rect x="273.87" y="410.25" width="25.33" height="7.4" fill="#1E9643" stroke="#000" stroke-width="0.9"/>
<rect x="182.57" y="410.25" width="91.30" height="7.4" fill="#FDAE66" stroke="#000" stroke-width="0.9"/>
<rect x="134.70" y="410.25" width="47.87" height="7.4" fill="#D7191C" stroke="#000" stroke-width="0.9"/>
<rect x="290.98" y="418.36" width="8.22" height="7.4" fill="#1E9643" stroke="#000" stroke-width="0.9"/>
<rect x="134.70" y="418.36" width="156.28" height="7.4" fill="#FDAE66" stroke="#000" stroke-width="0.9"/>
<rect x="295.25" y="426.47" width="3.95" height="7.4" fill="#1E9643" stroke="#000" stroke-width="0.9"/>
<rect x="134.70" y="426.47" width="160.55" height="7.4" fill="#FDAE66" stroke="#000" stroke-width="0.9"/>
<rect x="290.98" y="434.59" width="8.22" height="7.4" fill="#1E9643" stroke="#000" stroke-width="0.9"/>
<rect x="143.42" y="434.59" width="147.56" height="7.4" fill="#FDAE66" stroke="#000" stroke-width="0.9"/>
<rect x="134.70" y="434.59" width="8.72" height="7.4" fill="#D7191C" stroke="#000" stroke-width="0.9"/>
<rect x="282.42" y="442.70" width="16.78" height="7.4" fill="#1E9643" stroke="#000" stroke-width="0.9"/>
<rect x="139.47" y="442.70" width="142.95" height="7.4" fill="#FDAE66" stroke="#000" stroke-width="0.9"/>
<rect x="134.70" y="442.70" width="4.77" height="7.4" fill="#D7191C" stroke="#000" stroke-width="0.9"/>
<rect x="295.25" y="450.81" width="3.95" height="7.4" fill="#1E9643" stroke="#000" stroke-width="0.9"/>
<rect x="147.70" y="450.81" width="147.56" height="7.4" fill="#FDAE66" stroke="#000" stroke-width="0.9"/>
<rect x="134.70" y="450.81" width="13.00" height="7.4" fill="#D7191C" stroke="#000" stroke-width="0.9"/>
<rect x="126.70" y="254.60" width="180.50" height="204.00" fill="none" stroke="#555" stroke-width="0.6"/>
<rect x="126.70" y="233.10" width="180.50" height="21.50" fill="#D9D9D9" stroke="#555" stroke-width="0.6"/>
<text x="216.95" y="249.35" font-size="14.4" fill="#1A1A1A" text-anchor="middle">France</text>
<text x="121.70" y="263.40" font-size="9.45" font-style="italic" fill="#4D4D4D" stroke="#4D4D4D" stroke-width="0.2" text-anchor="end">Abies Grandis</text>
<text x="121.70" y="271.51" font-size="9.45" font-style="italic" fill="#4D4D4D" stroke="#4D4D4D" stroke-width="0.2" text-anchor="end">Acer negundo</text>
<text x="121.70" y="279.63" font-size="9.45" font-style="italic" fill="#4D4D4D" stroke="#4D4D4D" stroke-width="0.2" text-anchor="end">Acer Saccharum</text>
<text x="121.70" y="287.74" font-size="9.45" font-style="italic" fill="#4D4D4D" stroke="#4D4D4D" stroke-width="0.2" text-anchor="end">Aesculus hippocastanum</text>
<text x="121.70" y="295.85" font-size="9.45" font-style="italic" fill="#4D4D4D" stroke="#4D4D4D" stroke-width="0.2" text-anchor="end">Ailanthus Altissimma</text>
<text x="121.70" y="303.97" font-size="9.45" font-style="italic" fill="#4D4D4D" stroke="#4D4D4D" stroke-width="0.2" text-anchor="end">Catalpa bignonioides</text>
<text x="121.70" y="312.08" font-size="9.45" font-style="italic" fill="#4D4D4D" stroke="#4D4D4D" stroke-width="0.2" text-anchor="end">Chamaecyparis lawsoniana</text>
<text x="121.70" y="320.19" font-size="9.45" font-style="italic" fill="#4D4D4D" stroke="#4D4D4D" stroke-width="0.2" text-anchor="end">Gleditsia triacanthos</text>
<text x="121.70" y="328.30" font-size="9.45" font-style="italic" fill="#4D4D4D" stroke="#4D4D4D" stroke-width="0.2" text-anchor="end">Juglans Nigra</text>
<text x="121.70" y="336.42" font-size="9.45" font-style="italic" fill="#4D4D4D" stroke="#4D4D4D" stroke-width="0.2" text-anchor="end">Liquidambar styraciflua</text>
<text x="121.70" y="344.53" font-size="9.45" font-style="italic" fill="#4D4D4D" stroke="#4D4D4D" stroke-width="0.2" text-anchor="end">Liriodendron tulipifera</text>
<text x="121.70" y="352.64" font-size="9.45" font-style="italic" fill="#4D4D4D" stroke="#4D4D4D" stroke-width="0.2" text-anchor="end">Magnolia grandiflora</text>
<text x="121.70" y="360.76" font-size="9.45" font-style="italic" fill="#4D4D4D" stroke="#4D4D4D" stroke-width="0.2" text-anchor="end">Paulownia tomentosa</text>
<text x="121.70" y="368.87" font-size="9.45" font-style="italic" fill="#4D4D4D" stroke="#4D4D4D" stroke-width="0.2" text-anchor="end">Picea pungens</text>
<text x="121.70" y="376.98" font-size="9.45" font-style="italic" fill="#4D4D4D" stroke="#4D4D4D" stroke-width="0.2" text-anchor="end">Picea sitchensis</text>
<text x="121.70" y="385.10" font-size="9.45" font-style="italic" fill="#4D4D4D" stroke="#4D4D4D" stroke-width="0.2" text-anchor="end">Pinus radiata</text>
<text x="121.70" y="393.21" font-size="9.45" font-style="italic" fill="#4D4D4D" stroke="#4D4D4D" stroke-width="0.2" text-anchor="end">Pinus strobus</text>
<text x="121.70" y="401.32" font-size="9.45" font-style="italic" fill="#4D4D4D" stroke="#4D4D4D" stroke-width="0.2" text-anchor="end">Platanus acerifolia</text>
<text x="121.70" y="409.43" font-size="9.45" font-style="italic" fill="#4D4D4D" stroke="#4D4D4D" stroke-width="0.2" text-anchor="end">Populus balsamifera</text>
<text x="121.70" y="417.55" font-size="9.45" font-style="italic" fill="#4D4D4D" stroke="#4D4D4D" stroke-width="0.2" text-anchor="end">Prunus serotina</text>
<text x="121.70" y="425.66" font-size="9.45" font-style="italic" fill="#4D4D4D" stroke="#4D4D4D" stroke-width="0.2" text-anchor="end">Pseudotsuga menziesii</text>
<text x="121.70" y="433.77" font-size="9.45" font-style="italic" fill="#4D4D4D" stroke="#4D4D4D" stroke-width="0.2" text-anchor="end">Quercus rubra</text>
<text x="121.70" y="441.89" font-size="9.45" font-style="italic" fill="#4D4D4D" stroke="#4D4D4D" stroke-width="0.2" text-anchor="end">Rhus typhina</text>
<text x="121.70" y="450.00" font-size="9.45" font-style="italic" fill="#4D4D4D" stroke="#4D4D4D" stroke-width="0.2" text-anchor="end">Robinia pseudoacacia</text>
<text x="121.70" y="458.11" font-size="9.45" font-style="italic" fill="#4D4D4D" stroke="#4D4D4D" stroke-width="0.2" text-anchor="end">Thuja occidentalis</text>
<path d="M124.00 259.80H126.70M124.00 267.91H126.70M124.00 276.03H126.70M124.00 284.14H126.70M124.00 292.25H126.70M124.00 300.37H126.70M124.00 308.48H126.70M124.00 316.59H126.70M124.00 324.70H126.70M124.00 332.82H126.70M124.00 340.93H126.70M124.00 349.04H126.70M124.00 357.16H126.70M124.00 365.27H126.70M124.00 373.38H126.70M124.00 381.50H126.70M124.00 389.61H126.70M124.00 397.72H126.70M124.00 405.83H126.70M124.00 413.95H126.70M124.00 422.06H126.70M124.00 430.17H126.70M124.00 438.29H126.70M124.00 446.40H126.70M124.00 454.51H126.70" stroke="#333" stroke-width="1.0" fill="none"/>
</g>
<g>
<rect x="312.65" y="254.60" width="180.50" height="204.00" fill="#fff"/>
<path d="M312.65 259.80H493.15M312.65 267.91H493.15M312.65 276.03H493.15M312.65 284.14H493.15M312.65 292.25H493.15M312.65 300.37H493.15M312.65 308.48H493.15M312.65 316.59H493.15M312.65 324.70H493.15M312.65 332.82H493.15M312.65 340.93H493.15M312.65 349.04H493.15M312.65 357.16H493.15M312.65 365.27H493.15M312.65 373.38H493.15M312.65 381.50H493.15M312.65 389.61H493.15M312.65 397.72H493.15M312.65 405.83H493.15M312.65 413.95H493.15M312.65 422.06H493.15M312.65 430.17H493.15M312.65 438.29H493.15M312.65 446.40H493.15M312.65 454.51H493.15M320.65 254.60V458.60M361.77 254.60V458.60M402.90 254.60V458.60M444.02 254.60V458.60M485.15 254.60V458.60" stroke="#E4E4E4" stroke-width="0.9" fill="none"/>
<path d="M341.21 254.60V458.60M382.34 254.60V458.60M423.46 254.60V458.60M464.59 254.60V458.60" stroke="#EBEBEB" stroke-width="0.35" fill="none"/>
<rect x="467.88" y="256.10" width="17.27" height="7.4" fill="#1E9643" stroke="#000" stroke-width="0.9"/>
<rect x="348.12" y="256.10" width="119.76" height="7.4" fill="#FDAE66" stroke="#000" stroke-width="0.9"/>
<rect x="320.65" y="256.10" width="27.47" height="7.4" fill="#D7191C" stroke="#000" stroke-width="0.9"/>
<rect x="457.84" y="264.21" width="27.31" height="7.4" fill="#1E9643" stroke="#000" stroke-width="0.9"/>
<rect x="332.49" y="264.21" width="125.35" height="7.4" fill="#FDAE66" stroke="#000" stroke-width="0.9"/>
<rect x="320.65" y="264.21" width="11.84" height="7.4" fill="#D7191C" stroke="#000" stroke-width="0.9"/>
<rect x="467.88" y="272.33" width="17.27" height="7.4" fill="#1E9643" stroke="#000" stroke-width="0.9"/>
<rect x="336.11" y="272.33" width="131.76" height="7.4" fill="#FDAE66" stroke="#000" stroke-width="0.9"/>
<rect x="320.65" y="272.33" width="15.46" height="7.4" fill="#D7191C" stroke="#000" stroke-width="0.9"/>
<rect x="444.35" y="280.44" width="40.80" height="7.4" fill="#1E9643" stroke="#000" stroke-width="0.9"/>
<rect x="332.49" y="280.44" width="111.86" height="7.4" fill="#FDAE66" stroke="#000" stroke-width="0.9"/>
<rect x="320.65" y="280.44" width="11.84" height="7.4" fill="#D7191C" stroke="#000" stroke-width="0.9"/>
<rect x="481.37" y="288.55" width="3.78" height="7.4" fill="#1E9643" stroke="#000" stroke-width="0.9"/>
<rect x="322.46" y="288.55" width="158.91" height="7.4" fill="#FDAE66" stroke="#000" stroke-width="0.9"/>
<rect x="320.65" y="288.55" width="1.81" height="7.4" fill="#D7191C" stroke="#000" stroke-width="0.9"/>
<rect x="481.37" y="296.67" width="3.78" height="7.4" fill="#1E9643" stroke="#000" stroke-width="0.9"/>
<rect x="326.08" y="296.67" width="155.29" height="7.4" fill="#FDAE66" stroke="#000" stroke-width="0.9"/>
<rect x="320.65" y="296.67" width="5.43" height="7.4" fill="#D7191C" stroke="#000" stroke-width="0.9"/>
<rect x="477.09" y="304.78" width="8.06" height="7.4" fill="#1E9643" stroke="#000" stroke-width="0.9"/>
<rect x="326.08" y="304.78" width="151.01" height="7.4" fill="#FDAE66" stroke="#000" stroke-width="0.9"/>
<rect x="320.65" y="304.78" width="5.43" height="7.4" fill="#D7191C" stroke="#000" stroke-width="0.9"/>
<rect x="469.36" y="312.89" width="15.79" height="7.4" fill="#1E9643" stroke="#000" stroke-width="0.9"/>
<rect x="344.17" y="312.89" width="125.18" height="7.4" fill="#FDAE66" stroke="#000" stroke-width="0.9"/>
<rect x="320.65" y="312.89" width="23.52" height="7.4" fill="#D7191C" stroke="#000" stroke-width="0.9"/>
<rect x="432.02" y="321.00" width="53.13" height="7.4" fill="#1E9643" stroke="#000" stroke-width="0.9"/>
<rect x="324.43" y="321.00" width="107.58" height="7.4" fill="#FDAE66" stroke="#000" stroke-width="0.9"/>
<rect x="320.65" y="321.00" width="3.78" height="7.4" fill="#D7191C" stroke="#000" stroke-width="0.9"/>
<rect x="475.44" y="329.12" width="9.71" height="7.4" fill="#1E9643" stroke="#000" stroke-width="0.9"/>
<rect x="336.11" y="329.12" width="139.33" height="7.4" fill="#FDAE66" stroke="#000" stroke-width="0.9"/>
<rect x="320.65" y="329.12" width="15.46" height="7.4" fill="#D7191C" stroke="#000" stroke-width="0.9"/>
<rect x="479.72" y="337.23" width="5.43" height="7.4" fill="#1E9643" stroke="#000" stroke-width="0.9"/>
<rect x="326.08" y="337.23" width="153.64" height="7.4" fill="#FDAE66" stroke="#000" stroke-width="0.9"/>
<rect x="320.65" y="337.23" width="5.43" height="7.4" fill="#D7191C" stroke="#000" stroke-width="0.9"/>
<rect x="471.66" y="345.34" width="13.49" height="7.4" fill="#1E9643" stroke="#000" stroke-width="0.9"/>
<rect x="330.19" y="345.34" width="141.47" height="7.4" fill="#FDAE66" stroke="#000" stroke-width="0.9"/>
<rect x="320.65" y="345.34" width="9.54" height="7.4" fill="#D7191C" stroke="#000" stroke-width="0.9"/>
<rect x="481.37" y="353.46" width="3.78" height="7.4" fill="#1E9643" stroke="#000" stroke-width="0.9"/>
<rect x="328.22" y="353.46" width="153.15" height="7.4" fill="#FDAE66" stroke="#000" stroke-width="0.9"/>
<rect x="320.65" y="353.46" width="7.57" height="7.4" fill="#D7191C" stroke="#000" stroke-width="0.9"/>
<rect x="477.09" y="361.57" width="8.06" height="7.4" fill="#1E9643" stroke="#000" stroke-width="0.9"/>
<rect x="344.17" y="361.57" width="132.92" height="7.4" fill="#FDAE66" stroke="#000" stroke-width="0.9"/>
<rect x="320.65" y="361.57" width="23.52" height="7.4" fill="#D7191C" stroke="#000" stroke-width="0.9"/>
<rect x="479.72" y="369.68" width="5.43" height="7.4" fill="#1E9643" stroke="#000" stroke-width="0.9"/>
<rect x="342.20" y="369.68" width="137.52" height="7.4" fill="#FDAE66" stroke="#000" stroke-width="0.9"/>
<rect x="320.65" y="369.68" width="21.55" height="7.4" fill="#D7191C" stroke="#000" stroke-width="0.9"/>
<rect x="475.44" y="377.80" width="9.71" height="7.4" fill="#1E9643" stroke="#000" stroke-width="0.9"/>
<rect x="344.17" y="377.80" width="131.27" height="7.4" fill="#FDAE66" stroke="#000" stroke-width="0.9"/>
<rect x="320.65" y="377.80" width="23.52" height="7.4" fill="#D7191C" stroke="#000" stroke-width="0.9"/>
<rect x="455.87" y="385.91" width="29.28" height="7.4" fill="#1E9643" stroke="#000" stroke-width="0.9"/>
<rect x="332.49" y="385.91" width="123.38" height="7.4" fill="#FDAE66" stroke="#000" stroke-width="0.9"/>
<rect x="320.65" y="385.91" width="11.84" height="7.4" fill="#D7191C" stroke="#000" stroke-width="0.9"/>
<rect x="410.80" y="394.02" width="74.35" height="7.4" fill="#1E9643" stroke="#000" stroke-width="0.9"/>
<rect x="330.19" y="394.02" width="80.61" height="7.4" fill="#FDAE66" stroke="#000" stroke-width="0.9"/>
<rect x="320.65" y="394.02" width="9.54" height="7.4" fill="#D7191C" stroke="#000" stroke-width="0.9"/>
<rect x="463.44" y="402.13" width="21.71" height="7.4" fill="#1E9643" stroke="#000" stroke-width="0.9"/>
<rect x="348.12" y="402.13" width="115.31" height="7.4" fill="#FDAE66" stroke="#000" stroke-width="0.9"/>
<rect x="320.65" y="402.13" width="27.47" height="7.4" fill="#D7191C" stroke="#000" stroke-width="0.9"/>
<rect x="440.08" y="410.25" width="45.07" height="7.4" fill="#1E9643" stroke="#000" stroke-width="0.9"/>
<rect x="328.22" y="410.25" width="111.86" height="7.4" fill="#FDAE66" stroke="#000" stroke-width="0.9"/>
<rect x="320.65" y="410.25" width="7.57" height="7.4" fill="#D7191C" stroke="#000" stroke-width="0.9"/>
<rect x="482.85" y="418.36" width="2.30" height="7.4" fill="#1E9643" stroke="#000" stroke-width="0.9"/>
<rect x="328.22" y="418.36" width="154.63" height="7.4" fill="#FDAE66" stroke="#000" stroke-width="0.9"/>
<rect x="320.65" y="418.36" width="7.57" height="7.4" fill="#D7191C" stroke="#000" stroke-width="0.9"/>
<rect x="469.36" y="426.47" width="15.79" height="7.4" fill="#1E9643" stroke="#000" stroke-width="0.9"/>
<rect x="330.19" y="426.47" width="139.17" height="7.4" fill="#FDAE66" stroke="#000" stroke-width="0.9"/>
<rect x="320.65" y="426.47" width="9.54" height="7.4" fill="#D7191C" stroke="#000" stroke-width="0.9"/>
<rect x="459.82" y="434.59" width="25.33" height="7.4" fill="#1E9643" stroke="#000" stroke-width="0.9"/>
<rect x="348.12" y="434.59" width="111.70" height="7.4" fill="#FDAE66" stroke="#000" stroke-width="0.9"/>
<rect x="320.65" y="434.59" width="27.47" height="7.4" fill="#D7191C" stroke="#000" stroke-width="0.9"/>
<rect x="477.09" y="442.70" width="8.06" height="7.4" fill="#1E9643" stroke="#000" stroke-width="0.9"/>
<rect x="320.65" y="442.70" width="156.44" height="7.4" fill="#FDAE66" stroke="#000" stroke-width="0.9"/>
<rect x="473.31" y="450.81" width="11.84" height="7.4" fill="#1E9643" stroke="#000" stroke-width="0.9"/>
<rect x="336.11" y="450.81" width="137.19" height="7.4" fill="#FDAE66" stroke="#000" stroke-width="0.9"/>
<rect x="320.65" y="450.81" width="15.46" height="7.4" fill="#D7191C" stroke="#000" stroke-width="0.9"/>
<rect x="312.65" y="254.60" width="180.50" height="204.00" fill="none" stroke="#555" stroke-width="0.6"/>
<rect x="312.65" y="233.10" width="180.50" height="21.50" fill="#D9D9D9" stroke="#555" stroke-width="0.6"/>
<text x="402.90" y="249.35" font-size="14.4" fill="#1A1A1A" text-anchor="middle">Italy</text>
<text x="320.65" y="472.30" font-size="11.3" fill="#4D4D4D" text-anchor="middle">0%</text>
<text x="361.77" y="472.30" font-size="11.3" fill="#4D4D4D" text-anchor="middle">25%</text>
<text x="402.90" y="472.30" font-size="11.3" fill="#4D4D4D" text-anchor="middle">50%</text>
<text x="444.02" y="472.30" font-size="11.3" fill="#4D4D4D" text-anchor="middle">75%</text>
<text x="485.15" y="472.30" font-size="11.3" fill="#4D4D4D" text-anchor="middle">100%</text>
<path d="M320.65 458.60v2.7M361.77 458.60v2.7M402.90 458.60v2.7M444.02 458.60v2.7M485.15 458.60v2.7" stroke="#333" stroke-width="1.0" fill="none"/>
</g>
<g>
<rect x="499.10" y="254.60" width="180.50" height="204.00" fill="#fff"/>
<path d="M499.10 259.80H679.60M499.10 267.91H679.60M499.10 276.03H679.60M499.10 284.14H679.60M499.10 292.25H679.60M499.10 300.37H679.60M499.10 308.48H679.60M499.10 316.59H679.60M499.10 324.70H679.60M499.10 332.82H679.60M499.10 340.93H679.60M499.10 349.04H679.60M499.10 357.16H679.60M499.10 365.27H679.60M499.10 373.38H679.60M499.10 381.50H679.60M499.10 389.61H679.60M499.10 397.72H679.60M499.10 405.83H679.60M499.10 413.95H679.60M499.10 422.06H679.60M499.10 430.17H679.60M499.10 438.29H679.60M499.10 446.40H679.60M499.10 454.51H679.60M507.10 254.60V458.60M548.23 254.60V458.60M589.35 254.60V458.60M630.48 254.60V458.60M671.60 254.60V458.60" stroke="#E4E4E4" stroke-width="0.9" fill="none"/>
<path d="M527.66 254.60V458.60M568.79 254.60V458.60M609.91 254.60V458.60M651.04 254.60V458.60" stroke="#EBEBEB" stroke-width="0.35" fill="none"/>
<rect x="507.10" y="256.10" width="164.50" height="7.4" fill="#FDAE66" stroke="#000" stroke-width="0.9"/>
<rect x="641.00" y="264.21" width="30.60" height="7.4" fill="#1E9643" stroke="#000" stroke-width="0.9"/>
<rect x="507.10" y="264.21" width="133.90" height="7.4" fill="#FDAE66" stroke="#000" stroke-width="0.9"/>
<rect x="651.37" y="272.33" width="20.23" height="7.4" fill="#1E9643" stroke="#000" stroke-width="0.9"/>
<rect x="507.10" y="272.33" width="144.27" height="7.4" fill="#FDAE66" stroke="#000" stroke-width="0.9"/>
<rect x="599.71" y="280.44" width="71.89" height="7.4" fill="#1E9643" stroke="#000" stroke-width="0.9"/>
<rect x="507.10" y="280.44" width="92.61" height="7.4" fill="#FDAE66" stroke="#000" stroke-width="0.9"/>
<rect x="507.10" y="288.55" width="164.50" height="7.4" fill="#FDAE66" stroke="#000" stroke-width="0.9"/>
<rect x="661.57" y="296.67" width="10.03" height="7.4" fill="#1E9643" stroke="#000" stroke-width="0.9"/>
<rect x="507.10" y="296.67" width="154.47" height="7.4" fill="#FDAE66" stroke="#000" stroke-width="0.9"/>
<rect x="507.10" y="304.78" width="164.50" height="7.4" fill="#FDAE66" stroke="#000" stroke-width="0.9"/>
<rect x="507.10" y="312.89" width="164.50" height="7.4" fill="#FDAE66" stroke="#000" stroke-width="0.9"/>
<rect x="609.75" y="321.00" width="61.85" height="7.4" fill="#1E9643" stroke="#000" stroke-width="0.9"/>
<rect x="517.13" y="321.00" width="92.61" height="7.4" fill="#FDAE66" stroke="#000" stroke-width="0.9"/>
<rect x="507.10" y="321.00" width="10.03" height="7.4" fill="#D7191C" stroke="#000" stroke-width="0.9"/>
<rect x="661.57" y="329.12" width="10.03" height="7.4" fill="#1E9643" stroke="#000" stroke-width="0.9"/>
<rect x="507.10" y="329.12" width="154.47" height="7.4" fill="#FDAE66" stroke="#000" stroke-width="0.9"/>
<rect x="661.57" y="337.23" width="10.03" height="7.4" fill="#1E9643" stroke="#000" stroke-width="0.9"/>
<rect x="507.10" y="337.23" width="154.47" height="7.4" fill="#FDAE66" stroke="#000" stroke-width="0.9"/>
<rect x="517.13" y="345.34" width="154.47" height="7.4" fill="#FDAE66" stroke="#000" stroke-width="0.9"/>
<rect x="507.10" y="345.34" width="10.03" height="7.4" fill="#D7191C" stroke="#000" stroke-width="0.9"/>
<rect x="507.10" y="353.46" width="164.50" height="7.4" fill="#FDAE66" stroke="#000" stroke-width="0.9"/>
<rect x="651.37" y="361.57" width="20.23" height="7.4" fill="#1E9643" stroke="#000" stroke-width="0.9"/>
<rect x="507.10" y="361.57" width="144.27" height="7.4" fill="#FDAE66" stroke="#000" stroke-width="0.9"/>
<rect x="661.57" y="369.68" width="10.03" height="7.4" fill="#1E9643" stroke="#000" stroke-width="0.9"/>
<rect x="507.10" y="369.68" width="154.47" height="7.4" fill="#FDAE66" stroke="#000" stroke-width="0.9"/>
<rect x="507.10" y="377.80" width="164.50" height="7.4" fill="#FDAE66" stroke="#000" stroke-width="0.9"/>
<rect x="651.37" y="385.91" width="20.23" height="7.4" fill="#1E9643" stroke="#000" stroke-width="0.9"/>
<rect x="517.13" y="385.91" width="134.23" height="7.4" fill="#FDAE66" stroke="#000" stroke-width="0.9"/>
<rect x="507.10" y="385.91" width="10.03" height="7.4" fill="#D7191C" stroke="#000" stroke-width="0.9"/>
<rect x="661.57" y="394.02" width="10.03" height="7.4" fill="#1E9643" stroke="#000" stroke-width="0.9"/>
<rect x="507.10" y="394.02" width="154.47" height="7.4" fill="#FDAE66" stroke="#000" stroke-width="0.9"/>
<rect x="651.37" y="402.13" width="20.23" height="7.4" fill="#1E9643" stroke="#000" stroke-width="0.9"/>
<rect x="507.10" y="402.13" width="144.27" height="7.4" fill="#FDAE66" stroke="#000" stroke-width="0.9"/>
<rect x="630.80" y="410.25" width="40.80" height="7.4" fill="#1E9643" stroke="#000" stroke-width="0.9"/>
<rect x="507.10" y="410.25" width="123.70" height="7.4" fill="#FDAE66" stroke="#000" stroke-width="0.9"/>
<rect x="661.57" y="418.36" width="10.03" height="7.4" fill="#1E9643" stroke="#000" stroke-width="0.9"/>
<rect x="507.10" y="418.36" width="154.47" height="7.4" fill="#FDAE66" stroke="#000" stroke-width="0.9"/>
<rect x="609.75" y="426.47" width="61.85" height="7.4" fill="#1E9643" stroke="#000" stroke-width="0.9"/>
<rect x="507.10" y="426.47" width="102.65" height="7.4" fill="#FDAE66" stroke="#000" stroke-width="0.9"/>
<rect x="661.57" y="434.59" width="10.03" height="7.4" fill="#1E9643" stroke="#000" stroke-width="0.9"/>
<rect x="507.10" y="434.59" width="154.47" height="7.4" fill="#FDAE66" stroke="#000" stroke-width="0.9"/>
<rect x="507.10" y="442.70" width="164.50" height="7.4" fill="#FDAE66" stroke="#000" stroke-width="0.9"/>
<rect x="661.57" y="450.81" width="10.03" height="7.4" fill="#1E9643" stroke="#000" stroke-width="0.9"/>
<rect x="517.13" y="450.81" width="144.43" height="7.4" fill="#FDAE66" stroke="#000" stroke-width="0.9"/>
<rect x="507.10" y="450.81" width="10.03" height="7.4" fill="#D7191C" stroke="#000" stroke-width="0.9"/>
<rect x="499.10" y="254.60" width="180.50" height="204.00" fill="none" stroke="#555" stroke-width="0.6"/>
<rect x="499.10" y="233.10" width="180.50" height="21.50" fill="#D9D9D9" stroke="#555" stroke-width="0.6"/>
<text x="589.35" y="249.35" font-size="14.4" fill="#1A1A1A" text-anchor="middle">Switzerland</text>
<text x="507.10" y="472.30" font-size="11.3" fill="#4D4D4D" text-anchor="middle">0%</text>
<text x="548.23" y="472.30" font-size="11.3" fill="#4D4D4D" text-anchor="middle">25%</text>
<text x="589.35" y="472.30" font-size="11.3" fill="#4D4D4D" text-anchor="middle">50%</text>
<text x="630.48" y="472.30" font-size="11.3" fill="#4D4D4D" text-anchor="middle">75%</text>
<text x="671.60" y="472.30" font-size="11.3" fill="#4D4D4D" text-anchor="middle">100%</text>
<path d="M507.10 458.60v2.7M548.23 458.60v2.7M589.35 458.60v2.7M630.48 458.60v2.7M671.60 458.60v2.7" stroke="#333" stroke-width="1.0" fill="none"/>
</g>
<g>
<rect x="126.70" y="485.90" width="180.50" height="204.00" fill="#fff"/>
<path d="M126.70 491.10H307.20M126.70 499.21H307.20M126.70 507.33H307.20M126.70 515.44H307.20M126.70 523.55H307.20M126.70 531.66H307.20M126.70 539.78H307.20M126.70 547.89H307.20M126.70 556.00H307.20M126.70 564.12H307.20M126.70 572.23H307.20M126.70 580.34H307.20M126.70 588.46H307.20M126.70 596.57H307.20M126.70 604.68H307.20M126.70 612.79H307.20M126.70 620.91H307.20M126.70 629.02H307.20M126.70 637.13H307.20M126.70 645.25H307.20M126.70 653.36H307.20M126.70 661.47H307.20M126.70 669.59H307.20M126.70 677.70H307.20M126.70 685.81H307.20M134.70 485.90V689.90M175.82 485.90V689.90M216.95 485.90V689.90M258.07 485.90V689.90M299.20 485.90V689.90" stroke="#E4E4E4" stroke-width="0.9" fill="none"/>
<path d="M155.26 485.90V689.90M196.39 485.90V689.90M237.51 485.90V689.90M278.64 485.90V689.90" stroke="#EBEBEB" stroke-width="0.35" fill="none"/>
<rect x="287.85" y="487.40" width="11.35" height="7.4" fill="#1E9643" stroke="#000" stroke-width="0.9"/>
<rect x="147.53" y="487.40" width="140.32" height="7.4" fill="#FDAE66" stroke="#000" stroke-width="0.9"/>
<rect x="134.70" y="487.40" width="12.83" height="7.4" fill="#D7191C" stroke="#000" stroke-width="0.9"/>
<rect x="281.11" y="495.51" width="18.09" height="7.4" fill="#1E9643" stroke="#000" stroke-width="0.9"/>
<rect x="145.56" y="495.51" width="135.55" height="7.4" fill="#FDAE66" stroke="#000" stroke-width="0.9"/>
<rect x="134.70" y="495.51" width="10.86" height="7.4" fill="#D7191C" stroke="#000" stroke-width="0.9"/>
<rect x="287.36" y="503.63" width="11.84" height="7.4" fill="#1E9643" stroke="#000" stroke-width="0.9"/>
<rect x="149.01" y="503.63" width="138.34" height="7.4" fill="#FDAE66" stroke="#000" stroke-width="0.9"/>
<rect x="134.70" y="503.63" width="14.31" height="7.4" fill="#D7191C" stroke="#000" stroke-width="0.9"/>
<rect x="239.82" y="511.74" width="59.38" height="7.4" fill="#1E9643" stroke="#000" stroke-width="0.9"/>
<rect x="141.44" y="511.74" width="98.37" height="7.4" fill="#FDAE66" stroke="#000" stroke-width="0.9"/>
<rect x="134.70" y="511.74" width="6.74" height="7.4" fill="#D7191C" stroke="#000" stroke-width="0.9"/>
<rect x="283.90" y="519.85" width="15.30" height="7.4" fill="#1E9643" stroke="#000" stroke-width="0.9"/>
<rect x="140.79" y="519.85" width="143.12" height="7.4" fill="#FDAE66" stroke="#000" stroke-width="0.9"/>
<rect x="134.70" y="519.85" width="6.09" height="7.4" fill="#D7191C" stroke="#000" stroke-width="0.9"/>
<rect x="296.90" y="527.96" width="2.30" height="7.4" fill="#1E9643" stroke="#000" stroke-width="0.9"/>
<rect x="141.44" y="527.96" width="155.45" height="7.4" fill="#FDAE66" stroke="#000" stroke-width="0.9"/>
<rect x="134.70" y="527.96" width="6.74" height="7.4" fill="#D7191C" stroke="#000" stroke-width="0.9"/>
<rect x="296.40" y="536.08" width="2.80" height="7.4" fill="#1E9643" stroke="#000" stroke-width="0.9"/>
<rect x="143.42" y="536.08" width="152.99" height="7.4" fill="#FDAE66" stroke="#000" stroke-width="0.9"/>
<rect x="134.70" y="536.08" width="8.72" height="7.4" fill="#D7191C" stroke="#000" stroke-width="0.9"/>
<rect x="293.44" y="544.19" width="5.76" height="7.4" fill="#1E9643" stroke="#000" stroke-width="0.9"/>
<rect x="150.49" y="544.19" width="142.95" height="7.4" fill="#FDAE66" stroke="#000" stroke-width="0.9"/>
<rect x="134.70" y="544.19" width="15.79" height="7.4" fill="#D7191C" stroke="#000" stroke-width="0.9"/>
<rect x="260.87" y="552.30" width="38.33" height="7.4" fill="#1E9643" stroke="#000" stroke-width="0.9"/>
<rect x="146.71" y="552.30" width="114.16" height="7.4" fill="#FDAE66" stroke="#000" stroke-width="0.9"/>
<rect x="134.70" y="552.30" width="12.01" height="7.4" fill="#D7191C" stroke="#000" stroke-width="0.9"/>
<rect x="296.40" y="560.42" width="2.80" height="7.4" fill="#1E9643" stroke="#000" stroke-width="0.9"/>
<rect x="147.53" y="560.42" width="148.87" height="7.4" fill="#FDAE66" stroke="#000" stroke-width="0.9"/>
<rect x="134.70" y="560.42" width="12.83" height="7.4" fill="#D7191C" stroke="#000" stroke-width="0.9"/>
<rect x="294.92" y="568.53" width="4.28" height="7.4" fill="#1E9643" stroke="#000" stroke-width="0.9"/>
<rect x="140.79" y="568.53" width="154.14" height="7.4" fill="#FDAE66" stroke="#000" stroke-width="0.9"/>
<rect x="134.70" y="568.53" width="6.09" height="7.4" fill="#D7191C" stroke="#000" stroke-width="0.9"/>
<rect x="294.92" y="576.64" width="4.28" height="7.4" fill="#1E9643" stroke="#000" stroke-width="0.9"/>
<rect x="143.42" y="576.64" width="151.50" height="7.4" fill="#FDAE66" stroke="#000" stroke-width="0.9"/>
<rect x="134.70" y="576.64" width="8.72" height="7.4" fill="#D7191C" stroke="#000" stroke-width="0.9"/>
<rect x="296.90" y="584.76" width="2.30" height="7.4" fill="#1E9643" stroke="#000" stroke-width="0.9"/>
<rect x="143.42" y="584.76" width="153.48" height="7.4" fill="#FDAE66" stroke="#000" stroke-width="0.9"/>
<rect x="134.70" y="584.76" width="8.72" height="7.4" fill="#D7191C" stroke="#000" stroke-width="0.9"/>
<rect x="289.00" y="592.87" width="10.20" height="7.4" fill="#1E9643" stroke="#000" stroke-width="0.9"/>
<rect x="148.19" y="592.87" width="140.81" height="7.4" fill="#FDAE66" stroke="#000" stroke-width="0.9"/>
<rect x="134.70" y="592.87" width="13.49" height="7.4" fill="#D7191C" stroke="#000" stroke-width="0.9"/>
<rect x="289.99" y="600.98" width="9.21" height="7.4" fill="#1E9643" stroke="#000" stroke-width="0.9"/>
<rect x="146.05" y="600.98" width="143.94" height="7.4" fill="#FDAE66" stroke="#000" stroke-width="0.9"/>
<rect x="134.70" y="600.98" width="11.35" height="7.4" fill="#D7191C" stroke="#000" stroke-width="0.9"/>
<rect x="295.42" y="609.09" width="3.78" height="7.4" fill="#1E9643" stroke="#000" stroke-width="0.9"/>
<rect x="144.24" y="609.09" width="151.18" height="7.4" fill="#FDAE66" stroke="#000" stroke-width="0.9"/>
<rect x="134.70" y="609.09" width="9.54" height="7.4" fill="#D7191C" stroke="#000" stroke-width="0.9"/>
<rect x="276.33" y="617.21" width="22.87" height="7.4" fill="#1E9643" stroke="#000" stroke-width="0.9"/>
<rect x="144.24" y="617.21" width="132.09" height="7.4" fill="#FDAE66" stroke="#000" stroke-width="0.9"/>
<rect x="134.70" y="617.21" width="9.54" height="7.4" fill="#D7191C" stroke="#000" stroke-width="0.9"/>
<rect x="264.82" y="625.32" width="34.38" height="7.4" fill="#1E9643" stroke="#000" stroke-width="0.9"/>
<rect x="143.75" y="625.32" width="121.07" height="7.4" fill="#FDAE66" stroke="#000" stroke-width="0.9"/>
<rect x="134.70" y="625.32" width="9.05" height="7.4" fill="#D7191C" stroke="#000" stroke-width="0.9"/>
<rect x="279.13" y="633.43" width="20.07" height="7.4" fill="#1E9643" stroke="#000" stroke-width="0.9"/>
<rect x="153.78" y="633.43" width="125.35" height="7.4" fill="#FDAE66" stroke="#000" stroke-width="0.9"/>
<rect x="134.70" y="633.43" width="19.08" height="7.4" fill="#D7191C" stroke="#000" stroke-width="0.9"/>
<rect x="265.64" y="641.55" width="33.56" height="7.4" fill="#1E9643" stroke="#000" stroke-width="0.9"/>
<rect x="154.28" y="641.55" width="111.37" height="7.4" fill="#FDAE66" stroke="#000" stroke-width="0.9"/>
<rect x="134.70" y="641.55" width="19.58" height="7.4" fill="#D7191C" stroke="#000" stroke-width="0.9"/>
<rect x="292.13" y="649.66" width="7.07" height="7.4" fill="#1E9643" stroke="#000" stroke-width="0.9"/>
<rect x="138.48" y="649.66" width="153.64" height="7.4" fill="#FDAE66" stroke="#000" stroke-width="0.9"/>
<rect x="134.70" y="649.66" width="3.78" height="7.4" fill="#D7191C" stroke="#000" stroke-width="0.9"/>
<rect x="272.88" y="657.77" width="26.32" height="7.4" fill="#1E9643" stroke="#000" stroke-width="0.9"/>
<rect x="139.63" y="657.77" width="133.25" height="7.4" fill="#FDAE66" stroke="#000" stroke-width="0.9"/>
<rect x="134.70" y="657.77" width="4.93" height="7.4" fill="#D7191C" stroke="#000" stroke-width="0.9"/>
<rect x="289.00" y="665.89" width="10.20" height="7.4" fill="#1E9643" stroke="#000" stroke-width="0.9"/>
<rect x="148.19" y="665.89" width="140.81" height="7.4" fill="#FDAE66" stroke="#000" stroke-width="0.9"/>
<rect x="134.70" y="665.89" width="13.49" height="7.4" fill="#D7191C" stroke="#000" stroke-width="0.9"/>
<rect x="281.11" y="674.00" width="18.09" height="7.4" fill="#1E9643" stroke="#000" stroke-width="0.9"/>
<rect x="137.50" y="674.00" width="143.61" height="7.4" fill="#FDAE66" stroke="#000" stroke-width="0.9"/>
<rect x="134.70" y="674.00" width="2.80" height="7.4" fill="#D7191C" stroke="#000" stroke-width="0.9"/>
<rect x="283.90" y="682.11" width="15.30" height="7.4" fill="#1E9643" stroke="#000" stroke-width="0.9"/>
<rect x="143.42" y="682.11" width="140.48" height="7.4" fill="#FDAE66" stroke="#000" stroke-width="0.9"/>
<rect x="134.70" y="682.11" width="8.72" height="7.4" fill="#D7191C" stroke="#000" stroke-width="0.9"/>
<rect x="126.70" y="485.90" width="180.50" height="204.00" fill="none" stroke="#555" stroke-width="0.6"/>
<rect x="126.70" y="464.40" width="180.50" height="21.50" fill="#D9D9D9" stroke="#555" stroke-width="0.6"/>
<text x="216.95" y="480.65" font-size="14.4" fill="#1A1A1A" text-anchor="middle">Total</text>
<text x="121.70" y="494.70" font-size="9.45" font-style="italic" fill="#4D4D4D" stroke="#4D4D4D" stroke-width="0.2" text-anchor="end">Abies Grandis</text>
<text x="121.70" y="502.81" font-size="9.45" font-style="italic" fill="#4D4D4D" stroke="#4D4D4D" stroke-width="0.2" text-anchor="end">Acer negundo</text>
<text x="121.70" y="510.93" font-size="9.45" font-style="italic" fill="#4D4D4D" stroke="#4D4D4D" stroke-width="0.2" text-anchor="end">Acer Saccharum</text>
<text x="121.70" y="519.04" font-size="9.45" font-style="italic" fill="#4D4D4D" stroke="#4D4D4D" stroke-width="0.2" text-anchor="end">Aesculus hippocastanum</text>
<text x="121.70" y="527.15" font-size="9.45" font-style="italic" fill="#4D4D4D" stroke="#4D4D4D" stroke-width="0.2" text-anchor="end">Ailanthus Altissimma</text>
<text x="121.70" y="535.26" font-size="9.45" font-style="italic" fill="#4D4D4D" stroke="#4D4D4D" stroke-width="0.2" text-anchor="end">Catalpa bignonioides</text>
<text x="121.70" y="543.38" font-size="9.45" font-style="italic" fill="#4D4D4D" stroke="#4D4D4D" stroke-width="0.2" text-anchor="end">Chamaecyparis lawsoniana</text>
<text x="121.70" y="551.49" font-size="9.45" font-style="italic" fill="#4D4D4D" stroke="#4D4D4D" stroke-width="0.2" text-anchor="end">Gleditsia triacanthos</text>
<text x="121.70" y="559.60" font-size="9.45" font-style="italic" fill="#4D4D4D" stroke="#4D4D4D" stroke-width="0.2" text-anchor="end">Juglans Nigra</text>
<text x="121.70" y="567.72" font-size="9.45" font-style="italic" fill="#4D4D4D" stroke="#4D4D4D" stroke-width="0.2" text-anchor="end">Liquidambar styraciflua</text>
<text x="121.70" y="575.83" font-size="9.45" font-style="italic" fill="#4D4D4D" stroke="#4D4D4D" stroke-width="0.2" text-anchor="end">Liriodendron tulipifera</text>
<text x="121.70" y="583.94" font-size="9.45" font-style="italic" fill="#4D4D4D" stroke="#4D4D4D" stroke-width="0.2" text-anchor="end">Magnolia grandiflora</text>
<text x="121.70" y="592.06" font-size="9.45" font-style="italic" fill="#4D4D4D" stroke="#4D4D4D" stroke-width="0.2" text-anchor="end">Paulownia tomentosa</text>
<text x="121.70" y="600.17" font-size="9.45" font-style="italic" fill="#4D4D4D" stroke="#4D4D4D" stroke-width="0.2" text-anchor="end">Picea pungens</text>
<text x="121.70" y="608.28" font-size="9.45" font-style="italic" fill="#4D4D4D" stroke="#4D4D4D" stroke-width="0.2" text-anchor="end">Picea sitchensis</text>
<text x="121.70" y="616.39" font-size="9.45" font-style="italic" fill="#4D4D4D" stroke="#4D4D4D" stroke-width="0.2" text-anchor="end">Pinus radiata</text>
<text x="121.70" y="624.51" font-size="9.45" font-style="italic" fill="#4D4D4D" stroke="#4D4D4D" stroke-width="0.2" text-anchor="end">Pinus strobus</text>
<text x="121.70" y="632.62" font-size="9.45" font-style="italic" fill="#4D4D4D" stroke="#4D4D4D" stroke-width="0.2" text-anchor="end">Platanus acerifolia</text>
<text x="121.70" y="640.73" font-size="9.45" font-style="italic" fill="#4D4D4D" stroke="#4D4D4D" stroke-width="0.2" text-anchor="end">Populus balsamifera</text>
<text x="121.70" y="648.85" font-size="9.45" font-style="italic" fill="#4D4D4D" stroke="#4D4D4D" stroke-width="0.2" text-anchor="end">Prunus serotina</text>
<text x="121.70" y="656.96" font-size="9.45" font-style="italic" fill="#4D4D4D" stroke="#4D4D4D" stroke-width="0.2" text-anchor="end">Pseudotsuga menziesii</text>
<text x="121.70" y="665.07" font-size="9.45" font-style="italic" fill="#4D4D4D" stroke="#4D4D4D" stroke-width="0.2" text-anchor="end">Quercus rubra</text>
<text x="121.70" y="673.19" font-size="9.45" font-style="italic" fill="#4D4D4D" stroke="#4D4D4D" stroke-width="0.2" text-anchor="end">Rhus typhina</text>
<text x="121.70" y="681.30" font-size="9.45" font-style="italic" fill="#4D4D4D" stroke="#4D4D4D" stroke-width="0.2" text-anchor="end">Robinia pseudoacacia</text>
<text x="121.70" y="689.41" font-size="9.45" font-style="italic" fill="#4D4D4D" stroke="#4D4D4D" stroke-width="0.2" text-anchor="end">Thuja occidentalis</text>
<path d="M124.00 491.10H126.70M124.00 499.21H126.70M124.00 507.33H126.70M124.00 515.44H126.70M124.00 523.55H126.70M124.00 531.66H126.70M124.00 539.78H126.70M124.00 547.89H126.70M124.00 556.00H126.70M124.00 564.12H126.70M124.00 572.23H126.70M124.00 580.34H126.70M124.00 588.46H126.70M124.00 596.57H126.70M124.00 604.68H126.70M124.00 612.79H126.70M124.00 620.91H126.70M124.00 629.02H126.70M124.00 637.13H126.70M124.00 645.25H126.70M124.00 653.36H126.70M124.00 661.47H126.70M124.00 669.59H126.70M124.00 677.70H126.70M124.00 685.81H126.70" stroke="#333" stroke-width="1.0" fill="none"/>
<text x="134.70" y="703.60" font-size="11.3" fill="#4D4D4D" text-anchor="middle">0%</text>
<text x="175.82" y="703.60" font-size="11.3" fill="#4D4D4D" text-anchor="middle">25%</text>
<text x="216.95" y="703.60" font-size="11.3" fill="#4D4D4D" text-anchor="middle">50%</text>
<text x="258.07" y="703.60" font-size="11.3" fill="#4D4D4D" text-anchor="middle">75%</text>
<text x="299.20" y="703.60" font-size="11.3" fill="#4D4D4D" text-anchor="middle">100%</text>
<path d="M134.70 689.90v2.7M175.82 689.90v2.7M216.95 689.90v2.7M258.07 689.90v2.7M299.20 689.90v2.7" stroke="#333" stroke-width="1.0" fill="none"/>
</g>
<rect x="316.1" y="721.9" width="15.0" height="15.0" fill="#1E9643" stroke="#000" stroke-width="0.75"/>
<text x="337.0" y="733.80" font-size="11.3" fill="#000">Native</text>
<rect x="375.0" y="721.9" width="15.0" height="15.0" fill="#FDAE66" stroke="#000" stroke-width="0.75"/>
<text x="396.3" y="733.80" font-size="11.3" fill="#000">NNT</text>
<rect x="425.3" y="721.9" width="15.0" height="15.0" fill="#D7191C" stroke="#000" stroke-width="0.75"/>
<text x="447.0" y="733.80" font-size="11.3" fill="#000">Uncertain</text>
</svg></body></html>
